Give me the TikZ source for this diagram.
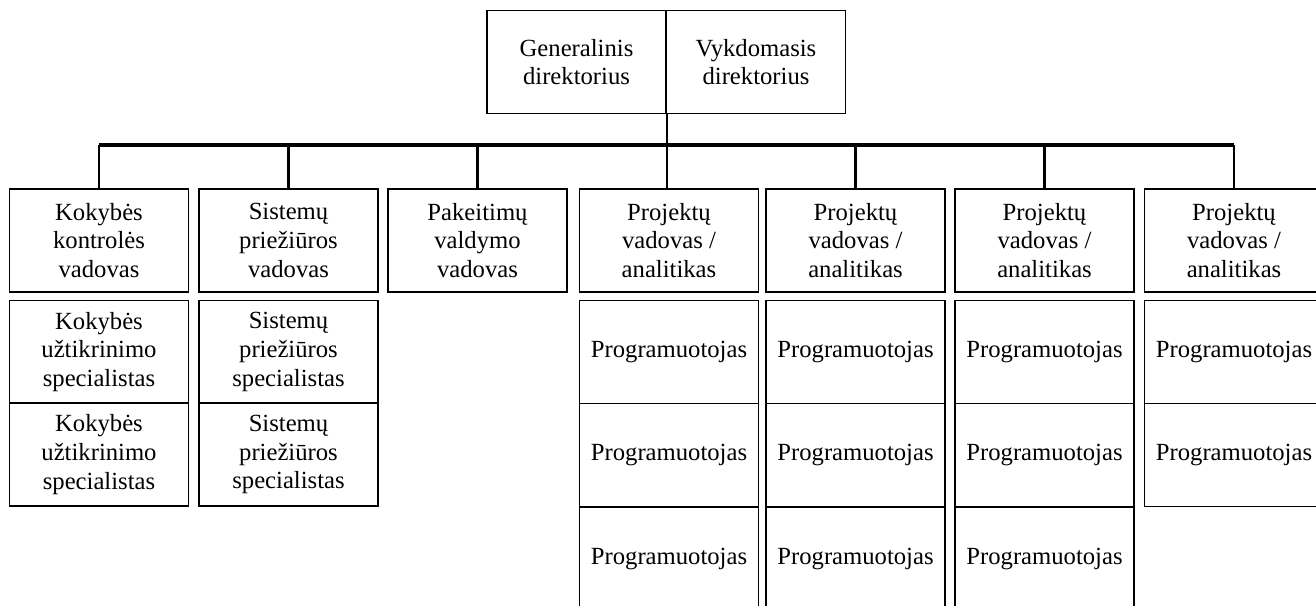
\documentclass[tikz,border=0pt]{standalone}
\usepackage{fontspec}
\setmainfont{Liberation Serif}
\begin{document}
\begin{tikzpicture}[x=0.75pt,y=-0.75pt,
  box/.style={draw, line width=1.1pt, minimum width=134.5pt, minimum height=77pt,
    inner sep=0pt, align=center, font=\fontsize{18.5}{21.6}\selectfont},
  bar/.style={line width=2.4pt},
  drop/.style={line width=1.6pt}]
\useasboundingbox (0,0) rectangle (1316,606);
\clip (0,0) rectangle (1316,606);

% top management box, split in two halves
\node[box, minimum width=134pt] (gen) at (576.5,62) {Generalinis\\direktorius};
\node[box, minimum width=134.5pt] (vyk) at (756,62) {Vykdomasis\\direktorius};

% first level
\node[box] (k1) at (99,240.5)   {Kokybės\\kontrolės\\vadovas};
\node[box] (k2) at (288.5,240.5) {Sistemų\\priežiūros\\vadovas};
\node[box] (k3) at (477.5,240.5) {Pakeitimų\\valdymo\\vadovas};
\node[box] (k4) at (669,240.5)   {Projektų\\vadovas /\\analitikas};
\node[box] (k5) at (855.5,240.5) {Projektų\\vadovas /\\analitikas};
\node[box] (k6) at (1044.5,240.5) {Projektų\\vadovas /\\analitikas};
\node[box] (k7) at (1234,240.5)  {Projektų\\vadovas /\\analitikas};

% specialists
\node[box] (s1a) at (99,352)    {Kokybės\\užtikrinimo\\specialistas};
\node[box] (s1b) at (99,454.5)  {Kokybės\\užtikrinimo\\specialistas};
\node[box] (s2a) at (288.5,352) {Sistemų\\priežiūros\\specialistas};
\node[box] (s2b) at (288.5,454.5) {Sistemų\\priežiūros\\specialistas};

% programmers
\foreach \c/\x in {4/669,5/855.5,6/1044.5}{
  \node[box] (p\c a) at (\x,352)   {Programuotojas};
  \node[box] (p\c b) at (\x,455)   {Programuotojas};
  \node[box] (p\c c) at (\x,558.5) {Programuotojas};
}
\node[box] (p7a) at (1234,352) {Programuotojas};
\node[box] (p7b) at (1234,455) {Programuotojas};

% connectors
\coordinate (bus) at (0,145);
\draw[bar] (k1.north |- bus) -- (k7.north |- bus);
\draw[drop] (gen.south east) -- (gen.south east |- k4.north);
\foreach \k in {k1,k2,k3,k5,k6,k7}
  \draw[drop] (\k.north) -- (\k.north |- bus);
\end{tikzpicture}
\end{document}
